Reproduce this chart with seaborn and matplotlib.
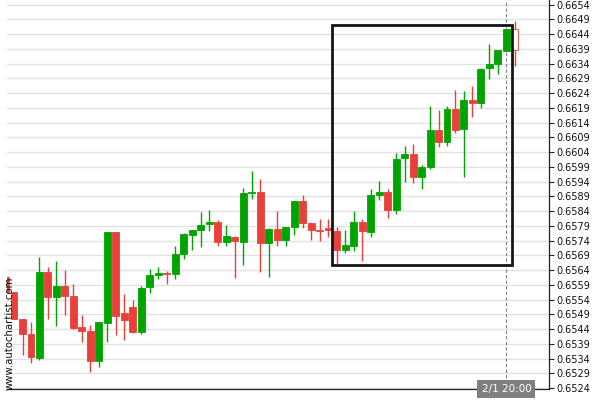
import numpy as np
import pandas as pd
import matplotlib
matplotlib.use("Agg")
import matplotlib.pyplot as plt
import matplotlib.transforms as mtransforms
from matplotlib.patches import Rectangle
import seaborn as sns

# ---------------- data ----------------
opens = [0.65617, 0.65566, 0.65473, 0.65422, 0.65342, 0.65633, 0.65549, 0.65585,
         0.65551, 0.65446, 0.65432, 0.65332, 0.65461, 0.65768, 0.65494, 0.65515,
         0.65430, 0.65583, 0.65624, 0.65629, 0.65626, 0.65694, 0.65758, 0.65775,
         0.65797, 0.65803, 0.65736, 0.65752, 0.65736, 0.65901, 0.65904, 0.65732,
         0.65779, 0.65741, 0.65785, 0.65874, 0.65799, 0.65775, 0.65782, 0.65772,
         0.65708, 0.65722, 0.65802, 0.65770, 0.65894, 0.65904, 0.65843, 0.66021,
         0.66033, 0.65956, 0.65989, 0.66115, 0.66074, 0.66186, 0.66119, 0.66217,
         0.66206, 0.66325, 0.66339, 0.66383, 0.66458]
highs = [0.65617, 0.65566, 0.65473, 0.65464, 0.65684, 0.65650, 0.65670, 0.65640,
         0.65592, 0.65487, 0.65453, 0.65463, 0.65768, 0.65768, 0.65558, 0.65538,
         0.65585, 0.65643, 0.65650, 0.65636, 0.65721, 0.65766, 0.65776, 0.65836,
         0.65843, 0.65809, 0.65792, 0.65755, 0.65920, 0.65976, 0.65948, 0.65782,
         0.65840, 0.65785, 0.65874, 0.65894, 0.65802, 0.65813, 0.65813, 0.65785,
         0.65775, 0.65840, 0.65813, 0.65914, 0.65942, 0.65914, 0.66038, 0.66060,
         0.66067, 0.65996, 0.66196, 0.66183, 0.66196, 0.66250, 0.66247, 0.66264,
         0.66325, 0.66407, 0.66386, 0.66458, 0.66485]
lows = [0.65566, 0.65473, 0.65351, 0.65326, 0.65334, 0.65474, 0.65452, 0.65488,
        0.65440, 0.65396, 0.65294, 0.65311, 0.65396, 0.65421, 0.65402, 0.65427,
        0.65423, 0.65561, 0.65610, 0.65593, 0.65610, 0.65678, 0.65710, 0.65717,
        0.65773, 0.65722, 0.65722, 0.65615, 0.65659, 0.65882, 0.65634, 0.65617,
        0.65721, 0.65721, 0.65758, 0.65782, 0.65741, 0.65738, 0.65752, 0.65661,
        0.65698, 0.65705, 0.65670, 0.65753, 0.65878, 0.65817, 0.65830, 0.65939,
        0.65936, 0.65915, 0.65983, 0.66057, 0.66061, 0.66106, 0.65956, 0.66160,
        0.66190, 0.66288, 0.66305, 0.66383, 0.66333]
closes = [0.65566, 0.65473, 0.65423, 0.65345, 0.65633, 0.65549, 0.65585, 0.65552,
          0.65444, 0.65433, 0.65332, 0.65463, 0.65768, 0.65484, 0.65471, 0.65430,
          0.65578, 0.65622, 0.65629, 0.65627, 0.65694, 0.65762, 0.65776, 0.65792,
          0.65803, 0.65736, 0.65755, 0.65739, 0.65901, 0.65905, 0.65732, 0.65779,
          0.65741, 0.65785, 0.65874, 0.65799, 0.65775, 0.65773, 0.65775, 0.65708,
          0.65724, 0.65802, 0.65772, 0.65894, 0.65904, 0.65843, 0.66016, 0.66033,
          0.65956, 0.65989, 0.66115, 0.66074, 0.66186, 0.66115, 0.66217, 0.66206,
          0.66322, 0.66339, 0.66386, 0.66458, 0.66387]

y_ticks = [round(0.6524 + 0.0005 * k, 4) for k in range(27)]
marker_label = "2/1 20:00"
marker_index = 57           # candle index (0-based from first full candle) of the marker
pattern_x = (36.45, 57.6)   # pattern box, in candle-index units
pattern_y = (0.65656, 0.66471)
watermark = "www.autochartist.com"

# ---------------- build ----------------
first_index = -2
df = pd.DataFrame({"open": opens, "high": highs, "low": lows, "close": closes})
df["idx"] = np.arange(first_index, first_index + len(df))
df["up"] = df["close"] >= df["open"]

GREEN = "#00a400"
RED = "#e8413a"
df["color"] = np.where(df["up"], GREEN, RED)

sns.set_style("white")
plt.rcParams["font.family"] = ["DejaVu Sans"]

fig = plt.figure(figsize=(6, 4), dpi=100)
left_px, right_px, bottom_px = 6.5, 549.0, 389.0
ax = fig.add_axes([left_px / 600, (400 - bottom_px) / 400,
                   (right_px - left_px) / 600, bottom_px / 400])

# wicks
ax.vlines(df["idx"], df["low"], df["high"], colors=df["color"], lw=1.0, zorder=2)

# bodies
body_bottom = df[["open", "close"]].min(axis=1)
body_height = (df["close"] - df["open"]).abs()
last = len(df) - 1
face = list(df["color"])
face[last] = "white"
ax.bar(df["idx"], body_height, bottom=body_bottom, width=0.82,
       color=face, edgecolor=list(df["color"]), linewidth=0.6, zorder=3)

# pattern box
ax.add_patch(Rectangle((pattern_x[0], pattern_y[0]), pattern_x[1] - pattern_x[0],
                       pattern_y[1] - pattern_y[0], fill=False, ec="#151515",
                       lw=2.0, zorder=4))

# marker line and label
ax.axvline(marker_index, color="#808080", lw=0.8, ls=(0, (3, 2)), zorder=1)
trans = mtransforms.blended_transform_factory(ax.transData, ax.transAxes)
ax.text(marker_index, 0.0, marker_label, transform=trans, ha="center", va="center",
        color="white", fontsize=7.5, clip_on=False, zorder=6,
        bbox=dict(boxstyle="square,pad=0.4", fc="#7f7f7f", ec="none"))

# watermark
fig.text(10 / 600, 1 - 333 / 400, watermark, rotation=90, ha="center", va="center",
         fontsize=7.3, color="#111111", zorder=7)

# axes styling
px_per_candle = 8.49
first_center_px = 22.5
ax.set_xlim((left_px - first_center_px) / px_per_candle,
            (right_px - first_center_px) / px_per_candle)
ax.set_ylim(0.65237, 0.66556)
ax.set_yticks(y_ticks)
ax.set_yticklabels([f"{t:.4f}" for t in y_ticks])
ax.yaxis.tick_right()
ax.set_xticks([])
ax.yaxis.grid(True, color="#e2e2e2", lw=1.0)
ax.set_axisbelow(True)
ax.tick_params(axis="y", direction="out", length=3.5, width=0.8, labelsize=7,
               pad=2, color="#222222", labelcolor="#111111")
for s in ["left", "top"]:
    ax.spines[s].set_visible(False)
for s in ["right", "bottom"]:
    ax.spines[s].set_visible(True)
    ax.spines[s].set_color("#222222")
    ax.spines[s].set_linewidth(0.9)
ax.set_xlabel("")
ax.set_ylabel("")

fig.savefig("out.png", dpi=100)
